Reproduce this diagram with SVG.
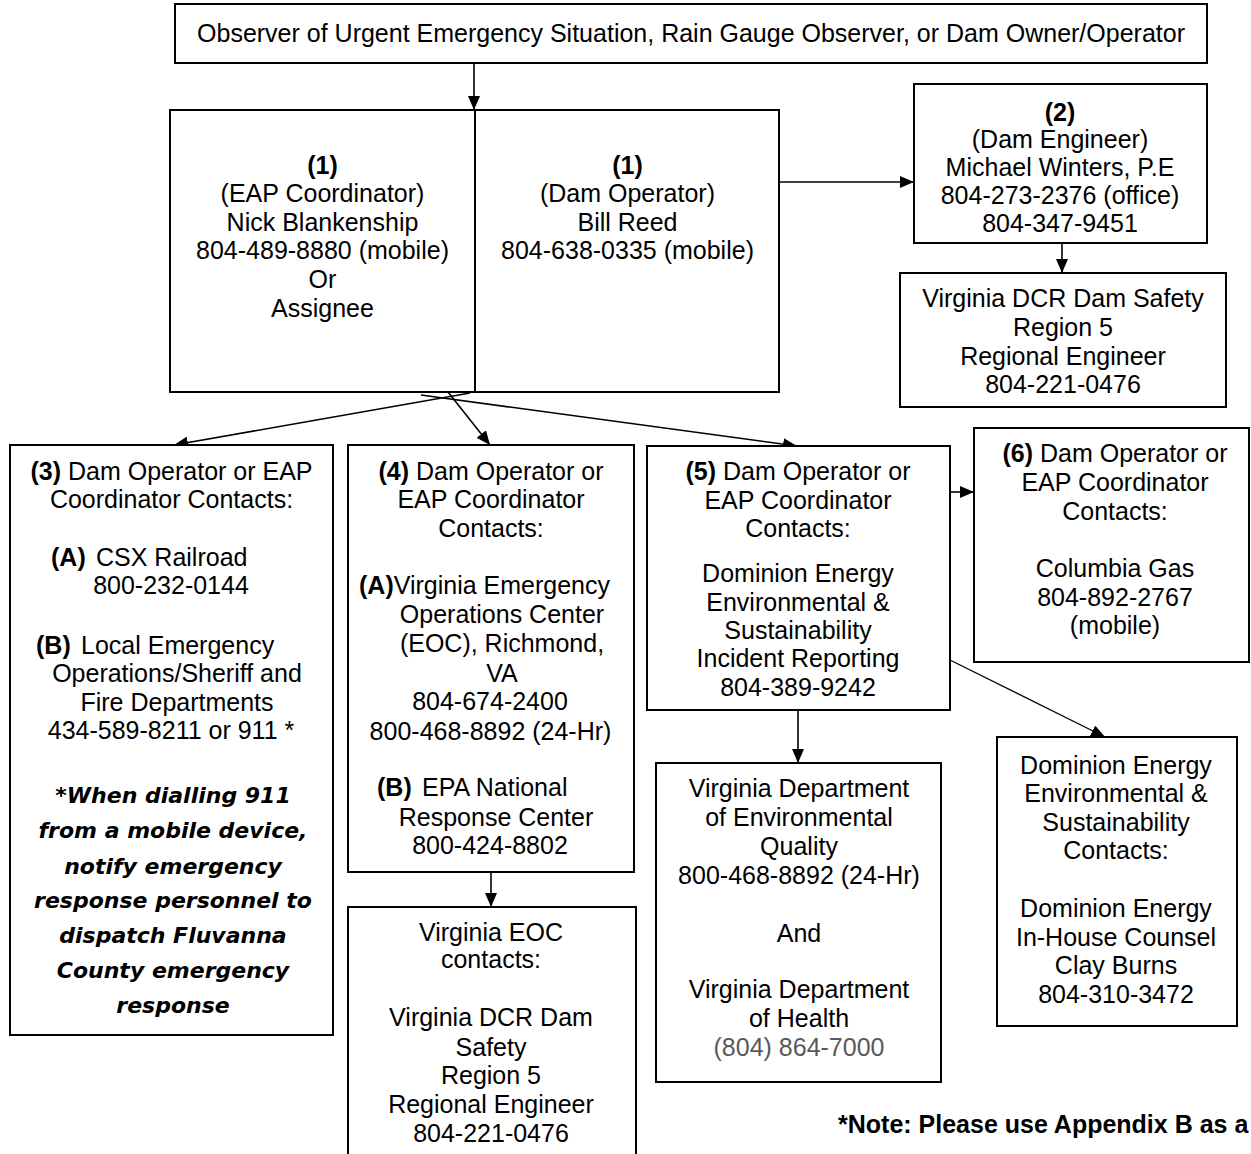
<svg xmlns="http://www.w3.org/2000/svg" width="1251" height="1154" viewBox="0 0 1251 1154">
<style>
.box{fill:#fff;stroke:#000;stroke-width:2}
.t{font-family:"Liberation Sans",Arial,sans-serif;font-size:25px;fill:#000;text-anchor:middle}
.s{text-anchor:start}
.b{font-weight:bold}
.bi{font-family:"DejaVu Sans",Verdana,sans-serif;font-size:22px;font-weight:bold;font-style:italic;fill:#000;text-anchor:middle}
.c{stroke:#000;stroke-width:1.6;fill:none}
.thin{stroke-width:1.2}
.g{fill:#595959}
</style>
<defs>
<marker id="ah" markerUnits="userSpaceOnUse" markerWidth="14" markerHeight="12" viewBox="0 0 14 12" refX="14" refY="6" orient="auto">
<path d="M0,0 L14,6 L0,12 z" fill="#000"/>
</marker>
</defs>
<rect width="1251" height="1154" fill="#fff"/>

<g id="connectors">
<line class="c" x1="474" y1="63" x2="474" y2="110" marker-end="url(#ah)"/>
<line class="c" x1="779" y1="182" x2="914" y2="182" marker-end="url(#ah)"/>
<line class="c" x1="1062" y1="243" x2="1062" y2="273" marker-end="url(#ah)"/>
<line class="c" x1="470" y1="393" x2="174" y2="445" marker-end="url(#ah)"/>
<line class="c" x1="448" y1="392" x2="490" y2="445" marker-end="url(#ah)"/>
<line class="c" x1="421" y1="395" x2="797" y2="446" marker-end="url(#ah)"/>
<line class="c" x1="950" y1="492" x2="974" y2="492" marker-end="url(#ah)"/>
<line class="c thin" x1="950" y1="660" x2="1105" y2="737" marker-end="url(#ah)"/>
<line class="c" x1="798" y1="710" x2="798" y2="763" marker-end="url(#ah)"/>
<line class="c" x1="491" y1="872" x2="491" y2="907" marker-end="url(#ah)"/>
</g>

<g id="observer">
<rect class="box" x="175" y="4" width="1032" height="59"/>
<text class="t" x="691" y="42">Observer of Urgent Emergency Situation, Rain Gauge Observer, or Dam Owner/Operator</text>
</g>

<g id="eap-coordinator">
<rect class="box" x="170" y="110" width="305" height="282"/>
<text class="t b" x="322.5" y="174">(1)</text>
<text class="t" x="322.5" y="202.3">(EAP Coordinator)</text>
<text class="t" x="322.5" y="230.7">Nick Blankenship</text>
<text class="t" x="322.5" y="259">804-489-8880 (mobile)</text>
<text class="t" x="322.5" y="288.3">Or</text>
<text class="t" x="322.5" y="317.3">Assignee</text>
</g>

<g id="dam-operator">
<rect class="box" x="475" y="110" width="304" height="282"/>
<text class="t b" x="627.5" y="174">(1)</text>
<text class="t" x="627.5" y="202.3">(Dam Operator)</text>
<text class="t" x="627.5" y="230.7">Bill Reed</text>
<text class="t" x="627.5" y="259">804-638-0335 (mobile)</text>
</g>

<g id="dam-engineer">
<rect class="box" x="914" y="84" width="293" height="159"/>
<text class="t b" x="1060" y="120.7">(2)</text>
<text class="t" x="1060" y="148">(Dam Engineer)</text>
<text class="t" x="1060" y="175.7">Michael Winters, P.E</text>
<text class="t" x="1060" y="203.7">804-273-2376 (office)</text>
<text class="t" x="1060" y="232">804-347-9451</text>
</g>

<g id="dcr-top">
<rect class="box" x="900" y="273" width="326" height="134"/>
<text class="t" x="1063" y="307">Virginia DCR Dam Safety</text>
<text class="t" x="1063" y="336">Region 5</text>
<text class="t" x="1063" y="365">Regional Engineer</text>
<text class="t" x="1063" y="393">804-221-0476</text>
</g>

<g id="contacts-3">
<rect class="box" x="10" y="445" width="323" height="590"/>
<text class="t" x="171.5" y="479.7"><tspan class="b">(3)</tspan> Dam Operator or EAP</text>
<text class="t" x="171.5" y="508">Coordinator Contacts:</text>
<text class="t s" x="51" y="566"><tspan class="b">(A)</tspan><tspan x="96">CSX Railroad</tspan></text>
<text class="t" x="171" y="594">800-232-0144</text>
<text class="t s" x="36" y="654"><tspan class="b">(B)</tspan><tspan x="81">Local Emergency</tspan></text>
<text class="t" x="177" y="681.7">Operations/Sheriff and</text>
<text class="t" x="177" y="710.7">Fire Departments</text>
<text class="t" x="171" y="739">434-589-8211 or 911 *</text>
<text class="bi" x="173" y="803">*When dialling 911</text>
<text class="bi" x="173" y="838">from a mobile device,</text>
<text class="bi" x="173" y="873.7">notify emergency</text>
<text class="bi" x="173" y="908">response personnel to</text>
<text class="bi" x="173" y="943">dispatch Fluvanna</text>
<text class="bi" x="173" y="978">County emergency</text>
<text class="bi" x="173" y="1013">response</text>
</g>

<g id="contacts-4">
<rect class="box" x="348" y="445" width="286" height="427"/>
<text class="t" x="491" y="479.7"><tspan class="b">(4)</tspan> Dam Operator or</text>
<text class="t" x="491" y="508">EAP Coordinator</text>
<text class="t" x="491" y="537.3">Contacts:</text>
<text class="t s" x="359" y="594"><tspan class="b">(A)</tspan>Virginia Emergency</text>
<text class="t" x="502" y="623.3">Operations Center</text>
<text class="t" x="502" y="652">(EOC), Richmond,</text>
<text class="t" x="502" y="682">VA</text>
<text class="t" x="490" y="710">804-674-2400</text>
<text class="t" x="490.5" y="739.7">800-468-8892 (24-Hr)</text>
<text class="t s" x="377" y="796"><tspan class="b">(B)</tspan><tspan x="422">EPA National</tspan></text>
<text class="t" x="496" y="825.7">Response Center</text>
<text class="t" x="490" y="854">800-424-8802</text>
</g>

<g id="virginia-eoc">
<rect class="box" x="348" y="907" width="288" height="260"/>
<text class="t" x="491" y="940.7">Virginia EOC</text>
<text class="t" x="491" y="968.3">contacts:</text>
<text class="t" x="491" y="1025.7">Virginia DCR Dam</text>
<text class="t" x="491" y="1055.7">Safety</text>
<text class="t" x="491" y="1084">Region 5</text>
<text class="t" x="491" y="1113">Regional Engineer</text>
<text class="t" x="491" y="1142.3">804-221-0476</text>
</g>

<g id="contacts-5">
<rect class="box" x="647" y="446" width="303" height="264"/>
<text class="t" x="798" y="479.7"><tspan class="b">(5)</tspan> Dam Operator or</text>
<text class="t" x="798" y="509">EAP Coordinator</text>
<text class="t" x="798" y="537.3">Contacts:</text>
<text class="t" x="798" y="582.3">Dominion Energy</text>
<text class="t" x="798" y="610.7">Environmental &amp;</text>
<text class="t" x="798" y="639">Sustainability</text>
<text class="t" x="798" y="667.3">Incident Reporting</text>
<text class="t" x="798" y="695.7">804-389-9242</text>
</g>

<g id="contacts-6">
<rect class="box" x="974" y="428" width="275" height="234"/>
<text class="t" x="1115" y="462.3"><tspan class="b">(6)</tspan> Dam Operator or</text>
<text class="t" x="1115" y="491.3">EAP Coordinator</text>
<text class="t" x="1115" y="519.7">Contacts:</text>
<text class="t" x="1115" y="577.3">Columbia Gas</text>
<text class="t" x="1115" y="605.7">804-892-2767</text>
<text class="t" x="1115" y="634">(mobile)</text>
</g>

<g id="deq-vdh">
<rect class="box" x="656" y="763" width="285" height="319"/>
<text class="t" x="799" y="797.3">Virginia Department</text>
<text class="t" x="799" y="825.7">of Environmental</text>
<text class="t" x="799" y="855">Quality</text>
<text class="t" x="799" y="884">800-468-8892 (24-Hr)</text>
<text class="t" x="799" y="941.7">And</text>
<text class="t" x="799" y="998.3">Virginia Department</text>
<text class="t" x="799" y="1027.3">of Health</text>
<text class="t g" x="799" y="1055.7">(804) 864-7000</text>
</g>

<g id="dominion-contacts">
<rect class="box" x="997" y="737" width="240" height="289"/>
<text class="t" x="1116" y="774">Dominion Energy</text>
<text class="t" x="1116" y="802.3">Environmental &amp;</text>
<text class="t" x="1116" y="830.7">Sustainability</text>
<text class="t" x="1116" y="859">Contacts:</text>
<text class="t" x="1116" y="917.3">Dominion Energy</text>
<text class="t" x="1116" y="945.7">In-House Counsel</text>
<text class="t" x="1116" y="974">Clay Burns</text>
<text class="t" x="1116" y="1003">804-310-3472</text>
</g>

<g id="note">
<text class="t s b" x="838" y="1133">*Note: Please use Appendix B as a</text>
</g>
</svg>
